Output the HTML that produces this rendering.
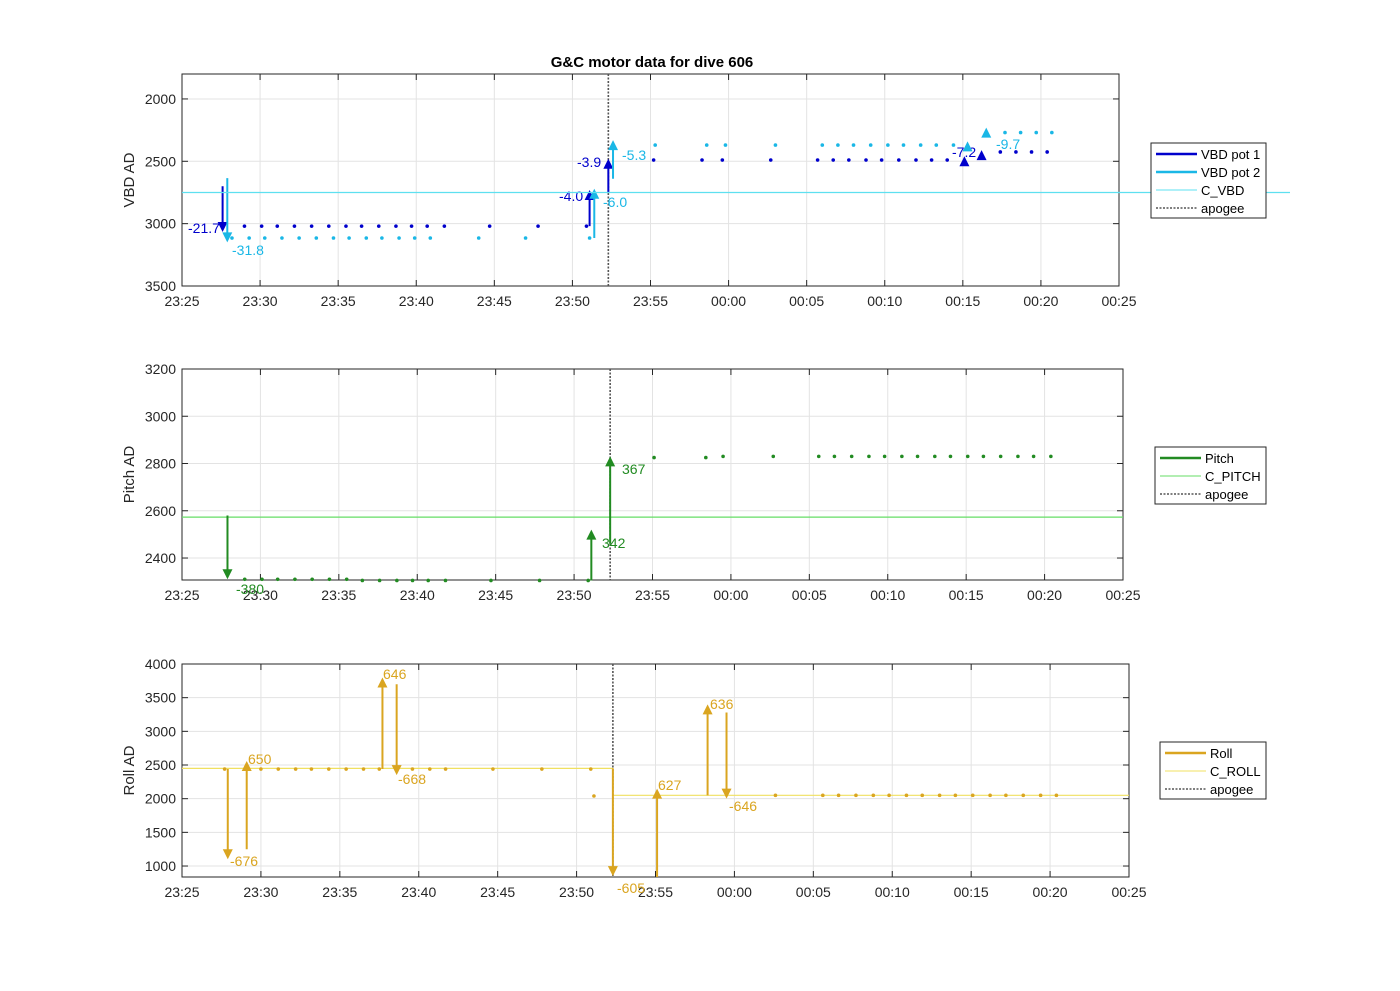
<!DOCTYPE html>
<html><head><meta charset="utf-8"><style>
body{margin:0;background:#fff;font-family:"Liberation Sans",sans-serif}
svg text{font-family:"Liberation Sans",sans-serif}
</style></head><body>
<svg id="c" width="1400" height="986" xmlns="http://www.w3.org/2000/svg">
<rect width="1400" height="986" fill="#fff"/>
<text x="652" y="67" font-size="15" font-weight="bold" text-anchor="middle">G&amp;C motor data for dive 606</text>
</svg>
<script>
const xTicks=["23:25","23:30","23:35","23:40","23:45","23:50","23:55","00:00","00:05","00:10","00:15","00:20","00:25"];
const apogeeT=27.3;
// VBD
const vbd1T=[4.0,5.1,6.1,7.2,8.3,9.4,10.5,11.5,12.6,13.7,14.7,15.7,16.8,19.7,22.8,25.9,30.2,33.3,34.6,37.7,40.7,41.7,42.7,43.8,44.8,45.9,47.0,48.0,49.0,52.4,53.4,54.4,55.4];
const vbd1V=[3020,3020,3020,3020,3020,3020,3020,3020,3020,3020,3020,3020,3020,3020,3020,3020,2490,2490,2490,2490,2490,2490,2490,2490,2490,2490,2490,2490,2490,2425,2425,2425,2425];
const vbd2T=[3.2,4.3,5.3,6.4,7.5,8.6,9.7,10.7,11.8,12.8,13.9,14.9,15.9,19.0,22.0,26.1,30.3,33.6,34.8,38.0,41.0,42.0,43.0,44.1,45.2,46.2,47.3,48.3,49.4,52.7,53.7,54.7,55.7];
const vbd2V=[3115,3115,3115,3115,3115,3115,3115,3115,3115,3115,3115,3115,3115,3115,3115,3115,2370,2370,2370,2370,2370,2370,2370,2370,2370,2370,2370,2370,2370,2270,2270,2270,2270];
const cVbd=2750;
const vbdArrowT=[2.6,2.9,26.1,26.4,27.3,27.6,50.1,50.3,51.2,51.5];
const vbdArrowFrom=[2700,2635,3020,3115,2750,2640,2500,2390,2440,2290];
const vbdArrowTo=[3067,3150,2730,2720,2480,2330,2460,2340,2410,2230];
const vbdArrowSeries=[1,2,1,2,1,2,1,2,1,2];
const vbdArrowLabel=["-21.7","-31.8","-4.0","-6.0","-3.9","-5.3","-7.2","","","-9.7"];
// Pitch
const pitchT=[4.0,5.1,6.1,7.2,8.3,9.4,10.5,11.5,12.6,13.7,14.7,15.7,16.8,19.7,22.8,25.9,30.1,33.4,34.5,37.7,40.6,41.6,42.7,43.8,44.8,45.9,46.9,48.0,49.0,50.1,51.1,52.2,53.3,54.3,55.4];
const pitchV=[2310,2310,2310,2310,2310,2310,2310,2305,2305,2305,2305,2305,2305,2305,2305,2305,2825,2825,2830,2830,2830,2830,2830,2830,2830,2830,2830,2830,2830,2830,2830,2830,2830,2830,2830];
const cPitch=2573;
const pitchArrowT=[2.9,26.1,27.3];
const pitchArrowFrom=[2580,2305,2460];
const pitchArrowTo=[2310,2520,2830];
const pitchArrowLabel=["-380","342","367"];
// Roll
const rollT=[2.7,5.0,6.1,7.2,8.2,9.3,10.4,11.5,12.5,13.6,14.6,15.7,16.7,19.7,22.8,25.9,26.1,37.6,40.6,41.6,42.7,43.8,44.8,45.9,46.9,48.0,49.0,50.1,51.2,52.2,53.3,54.4,55.4];
const rollV=[2440,2440,2440,2440,2440,2440,2440,2440,2440,2440,2440,2440,2440,2440,2440,2440,2040,2050,2050,2050,2050,2050,2050,2050,2050,2050,2050,2050,2050,2050,2050,2050,2050];
const cRollBefore=2450, cRollAfter=2050;
const rollArrowT=[2.9,4.1,12.7,13.6,27.3,30.1,33.3,34.5];
const rollArrowFrom=[2440,1250,2440,3700,2450,837,2050,3280];
const rollArrowTo=[1100,2560,3800,2350,850,2150,3400,2000];
const rollArrowLabel=["-676","650","646","-668","-605","627","636","-646"];

const svg=document.getElementById('c');
const NS="http://www.w3.org/2000/svg";
function mk(tag,attrs,parent){const e=document.createElementNS(NS,tag);for(const k in attrs)e.setAttribute(k,attrs[k]);(parent||svg).appendChild(e);return e;}

function makeAxes(name,x0,x1,y0,y1,ymin,ymax,yticks,reversed,ylabel){
  const g=mk('g',{});
  
  
  const sx=t=>x0+(t/60)*(x1-x0);
  const sy=v=>reversed? y0+(v-ymin)/(ymax-ymin)*(y1-y0) : y1-(v-ymin)/(ymax-ymin)*(y1-y0);
  mk('rect',{x:x0,y:y0,width:x1-x0,height:y1-y0,fill:'#fff',stroke:'none'},g);
  xTicks.forEach((lab,i)=>{const x=sx(i*5);
    mk('line',{x1:x,x2:x,y1:y0,y2:y1,stroke:'#e3e3e3','stroke-width':1},g);
    mk('line',{x1:x,x2:x,y1:y1,y2:y1-6,stroke:'#262626'},g);
    mk('line',{x1:x,x2:x,y1:y0,y2:y0+6,stroke:'#262626'},g);
    const t=mk('text',{x:x,y:y1+20,'font-size':14,'text-anchor':'middle',fill:'#262626'},g);t.textContent=lab;
    
    
  });
  yticks.forEach(v=>{const y=sy(v);
    mk('line',{x1:x0,x2:x1,y1:y,y2:y,stroke:'#e3e3e3'},g);
    mk('line',{x1:x0,x2:x0+6,y1:y,y2:y,stroke:'#262626'},g);
    mk('line',{x1:x1,x2:x1-6,y1:y,y2:y,stroke:'#262626'},g);
    const t=mk('text',{x:x0-6,y:y+5,'font-size':14,'text-anchor':'end',fill:'#262626'},g);t.textContent=v;
    
    
  });
  mk('rect',{x:x0,y:y0,width:x1-x0,height:y1-y0,fill:'none',stroke:'#262626','stroke-width':1},g);
  const yl=mk('text',{x:0,y:0,'font-size':15,'text-anchor':'middle',fill:'#262626',transform:`translate(134,${(y0+y1)/2}) rotate(-90)`},g);yl.textContent=ylabel;
  
  
  return {g,sx,sy,x0,x1,y0,y1};
}
function dots(ax,T,V,color,name){T.forEach((t,i)=>{const c=mk('circle',{cx:ax.sx(t),cy:ax.sy(V[i]),r:1.8,fill:color},ax.g);
  
  });}
function arrow(ax,t,from,to,color,label,lx,ly,name){
  const x=ax.sx(t),ya=ax.sy(from),yb=ax.sy(to);const dir=yb<ya?1:-1;
  const g=mk('g',{},ax.g);
  
  
  mk('line',{x1:x,x2:x,y1:ya,y2:yb+dir*8,stroke:color,'stroke-width':2},g);
  mk('polygon',{points:`${x-5},${yb+dir*10} ${x+5},${yb+dir*10} ${x},${yb}`,fill:color},g);
  if(label){const tx=mk('text',{x:lx,y:ly,'font-size':14,fill:color},g);tx.textContent=label;}
}
function apogee(ax){const x=ax.sx(apogeeT);const l=mk('line',{x1:x,x2:x,y1:ax.y0,y2:ax.y1,stroke:'#555','stroke-width':1.6,'stroke-dasharray':'2,1.5'},ax.g);
  
  }
function legend(name,x,y,w,entries){
  const g=mk('g',{});
  
  
  mk('rect',{x:x,y:y,width:w,height:entries.length*18+3,fill:'#fff',stroke:'#262626'},g);
  entries.forEach((e,i)=>{const yy=y+11+i*18;
    const a={x1:x+5,x2:x+46,y1:yy,y2:yy,stroke:e[1],'stroke-width':e[2]};if(e[3])a['stroke-dasharray']=e[3];
    mk('line',a,g);const t=mk('text',{x:x+50,y:yy+5,'font-size':13,fill:'#000'},g);t.textContent=e[0];
    
    });
}
const DB='#0000cc',LB='#1ab7e6',CV='#5ee0f0';
// Plot 1
const a1=makeAxes('vbd-axes',182,1119,74,286,1800,3500,[2000,2500,3000,3500],true,'VBD AD');
let l=mk('line',{x1:182,x2:1290,y1:a1.sy(cVbd),y2:a1.sy(cVbd),stroke:CV,'stroke-width':1.2});

apogee(a1);
dots(a1,vbd1T,vbd1V,DB,'vbd-pot1-point');dots(a1,vbd2T,vbd2V,LB,'vbd-pot2-point');
const vbdLabPos=[[188,233],[232,255],[559,201],[603,207],[577,167],[622,160],[952,157],[0,0],[0,0],[996,149]];
vbdArrowT.forEach((t,i)=>arrow(a1,t,vbdArrowFrom[i],vbdArrowTo[i],vbdArrowSeries[i]==1?DB:LB,vbdArrowLabel[i],vbdLabPos[i][0],vbdLabPos[i][1],'vbd-move-arrow'));
legend('vbd-legend',1151,143,115,[['VBD pot 1',DB,2.5],['VBD pot 2',LB,2.5],['C_VBD',CV,1],['apogee','#555',1.6,'2,1.5']]);
// Plot 2
const PG='#228b22',CP='#66dd66';
const a2=makeAxes('pitch-axes',182,1123,369,580,2307,3200,[2400,2600,2800,3000,3200],false,'Pitch AD');
l=mk('line',{x1:182,x2:1123,y1:a2.sy(cPitch),y2:a2.sy(cPitch),stroke:CP,'stroke-width':1.2},a2.g);

apogee(a2);
dots(a2,pitchT,pitchV,PG,'pitch-point');
const pLab=[[236,594],[602,548],[622,474]];
pitchArrowT.forEach((t,i)=>arrow(a2,t,pitchArrowFrom[i],pitchArrowTo[i],PG,pitchArrowLabel[i],pLab[i][0],pLab[i][1],'pitch-move-arrow'));
legend('pitch-legend',1155,447,111,[['Pitch',PG,2.5],['C_PITCH',CP,1],['apogee','#555',1.6,'2,1.5']]);
// Plot 3
const RG='#daa520',CR='#f0e060';
const a3=makeAxes('roll-axes',182,1129,664,877,837,4000,[1000,1500,2000,2500,3000,3500,4000],false,'Roll AD');
l=mk('line',{x1:182,x2:a3.sx(apogeeT),y1:a3.sy(cRollBefore),y2:a3.sy(cRollBefore),stroke:CR,'stroke-width':1.2},a3.g);

l=mk('line',{x1:a3.sx(apogeeT),x2:1129,y1:a3.sy(cRollAfter),y2:a3.sy(cRollAfter),stroke:CR,'stroke-width':1.2},a3.g);

apogee(a3);
dots(a3,rollT,rollV,RG,'roll-point');
const rLab=[[230,866],[248,764],[383,679],[398,784],[617,893],[658,790],[710,709],[729,811]];
rollArrowT.forEach((t,i)=>arrow(a3,t,rollArrowFrom[i],rollArrowTo[i],RG,rollArrowLabel[i],rLab[i][0],rLab[i][1],'roll-move-arrow'));
legend('roll-legend',1160,742,106,[['Roll',RG,2.5],['C_ROLL',CR,1],['apogee','#555',1.6,'2,1.5']]);
</script>
</body></html>
